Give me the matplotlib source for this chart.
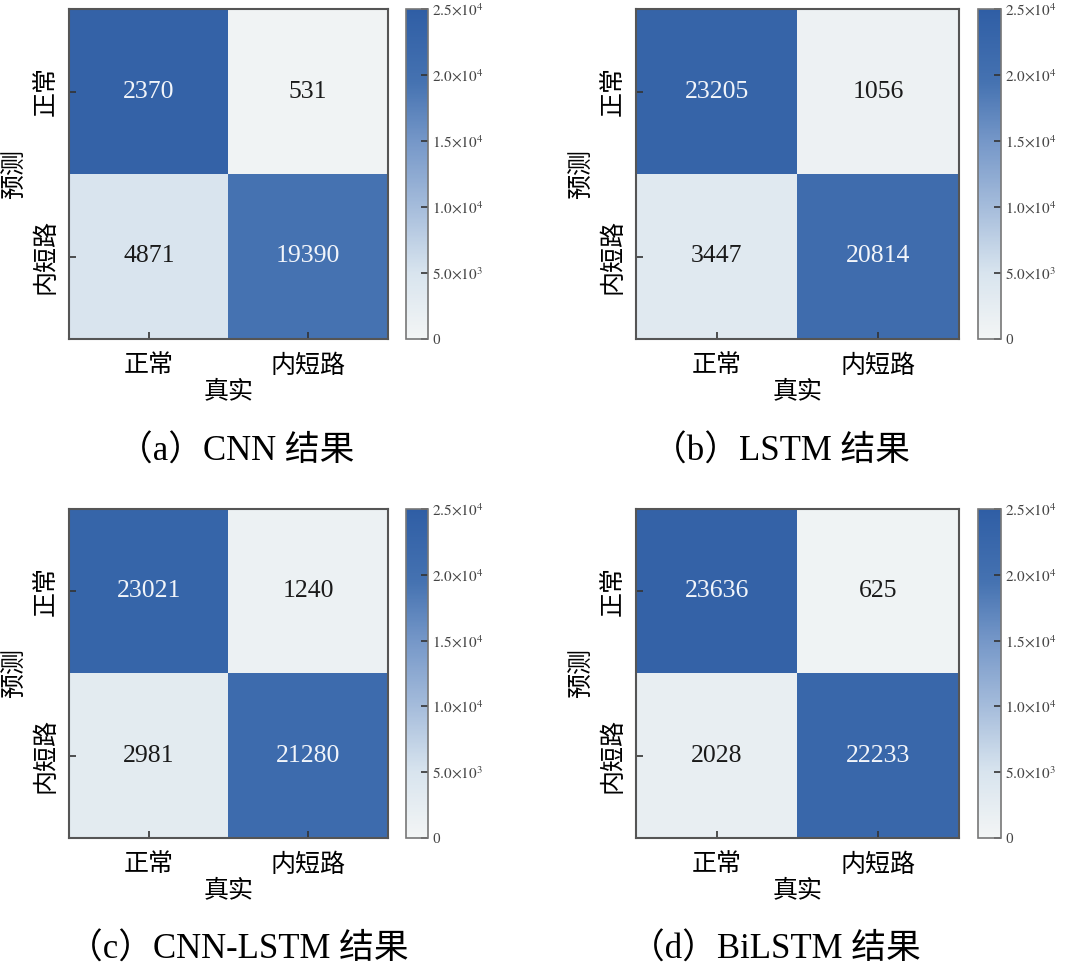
import matplotlib
matplotlib.use("Agg")
import matplotlib.pyplot as plt
import numpy as np
from matplotlib.colors import LinearSegmentedColormap

plt.rcParams['font.family'] = ['Liberation Serif', 'Noto Sans CJK SC']
plt.rcParams['mathtext.fontset'] = 'stix'

classes = ["正常", "内短路"]
x_label = "真实"
y_label = "预测"

cnn_values = [[23730, 531], [4871, 19390]]
cnn_text = [["2370", "531"], ["4871", "19390"]]
lstm_values = [[23205, 1056], [3447, 20814]]
cnnlstm_values = [[23021, 1240], [2981, 21280]]
bilstm_values = [[23636, 625], [2028, 22233]]

titles = ["（a）CNN 结果", "（b）LSTM 结果", "（c）CNN-LSTM 结果", "（d）BiLSTM 结果"]
cbar_ticks = [0, 5000, 10000, 15000, 20000, 25000]
cbar_ticklabels = ["0", r"$5.0{\times}10^{3}$", r"$1.0{\times}10^{4}$",
                   r"$1.5{\times}10^{4}$", r"$2.0{\times}10^{4}$", r"$2.5{\times}10^{4}$"]

cmap = LinearSegmentedColormap.from_list(
    "cm", [(0.0, "#f3f5f5"), (0.2, "#d8e4ee"), (0.4, "#a5bcdb"),
           (0.6, "#7597c8"), (0.78, "#4572b1"), (1.0, "#2f5ea5")])

W, H = 1071, 967
fig = plt.figure(figsize=(W / 100, H / 100), dpi=100)

def fx(px):
    return px / W

def fy(px):
    return 1 - px / H

panels = [
    (cnn_values, cnn_text, (69, 388, 9, 339), (406, 428), (236, 452)),
    (lstm_values, None, (636, 959, 9, 339), (978, 1001), (781, 452)),
    (cnnlstm_values, None, (69, 388, 509, 838), (406, 428), (238, 950)),
    (bilstm_values, None, (636, 959, 509, 838), (978, 1001), (775, 950)),
]

edge = "#555555"
for i, (vals, txt, (x0, x1, y0, y1), (c0, c1), (tx, ty)) in enumerate(panels):
    arr = np.array(vals, dtype=float)
    ax = fig.add_axes([fx(x0), fy(y1), fx(x1 - x0), (y1 - y0) / H])
    im = ax.imshow(arr, cmap=cmap, vmin=0, vmax=25000, aspect='auto')
    for r in range(2):
        for c in range(2):
            s = txt[r][c] if txt is not None else str(vals[r][c])
            col = "#f2f5fa" if arr[r, c] > 12500 else "#1a1a1a"
            ax.text(c, r, s, ha='center', va='center', fontsize=18.5,
                    color=col, family=['Liberation Serif'])
    ax.set_xticks([0, 1])
    ax.set_yticks([0, 1])
    ax.set_xticklabels(classes, fontsize=18)
    ax.set_yticklabels(classes, fontsize=18, rotation=90, va='center')
    ax.tick_params(direction='in', length=5, width=1.2, color="#333333")
    ax.tick_params(axis='x', pad=11)
    ax.tick_params(axis='y', pad=8)
    ax.set_xlabel(x_label, fontsize=18, labelpad=2)
    ax.set_ylabel(y_label, fontsize=18, labelpad=6)
    for sp in ax.spines.values():
        sp.set_color(edge)
        sp.set_linewidth(1.5)

    cax = fig.add_axes([fx(c0), fy(y1), fx(c1 - c0), (y1 - y0) / H])
    cb = fig.colorbar(im, cax=cax)
    cb.set_ticks(cbar_ticks)
    cb.set_ticklabels(cbar_ticklabels)
    cax.tick_params(direction='in', length=5, width=1.2, color="#333333",
                    labelsize=11, pad=3, labelcolor="#444444")
    cb.outline.set_edgecolor("#777777")
    cb.outline.set_linewidth(1.2)

    fig.text(fx(tx), fy(ty), titles[i], ha='center', va='center', fontsize=25)

fig.savefig("out.png", dpi=100)
